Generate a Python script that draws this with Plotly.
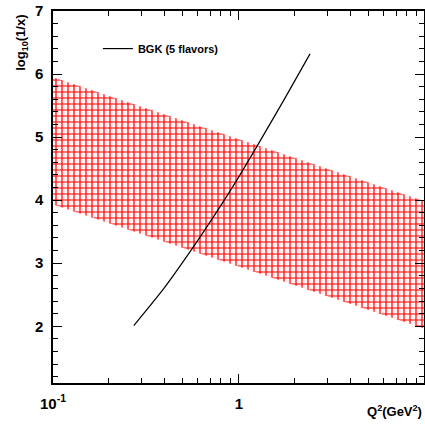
import plotly.graph_objects as go

# Band (red hatched region): log10(1/x) limits vs Q^2
band_q2 = [0.1, 10.0]
band_upper = [5.95, 3.98]
band_lower = [3.93, 1.96]

# BGK (5 flavors) curve
bgk_q2 = [0.272, 0.390, 0.545, 0.716, 0.952, 1.265, 1.746, 2.41]
bgk_y = [2.01, 2.58, 3.18, 3.70, 4.27, 4.88, 5.59, 6.32]

x_ticks = [0.1, 1]
x_ticktext = ["10<sup>-1</sup>", "1"]
x_minor = [0.2, 0.3, 0.4, 0.5, 0.6, 0.7, 0.8, 0.9, 2, 3, 4, 5, 6, 7, 8, 9]
y_ticks = [2, 3, 4, 5, 6, 7]

FONT = "Liberation Sans"

fig = go.Figure()
fig.add_trace(go.Scatter(
    x=band_q2 + band_q2[::-1],
    y=band_upper + band_lower[::-1],
    fill="toself", mode="lines", line=dict(width=0, color="red"),
    fillcolor="white",
    fillpattern=dict(shape="+", fgcolor="red", fgopacity=1, bgcolor="#fff2f2", size=6, solidity=0.36),
    showlegend=False, hoverinfo="skip",
))
fig.add_trace(go.Scatter(
    x=bgk_q2, y=bgk_y, mode="lines", line=dict(color="black", width=1.2, shape="spline", smoothing=0.6),
    name="BGK (5 flavors)",
))

axis_common = dict(
    showline=True, linecolor="black", linewidth=1.5, mirror="ticks",
    ticks="inside", tickcolor="black", showgrid=False, zeroline=False,
    automargin=False,
    tickfont=dict(family=FONT, size=15, color="black", weight="bold"),
)
fig.update_xaxes(
    type="log", range=[-1, 0.995], tickvals=x_ticks, ticktext=x_ticktext,
    ticklen=9, tickwidth=1,
    minor=dict(tickvals=x_minor, ticks="inside", ticklen=5, tickcolor="black", tickwidth=1, showgrid=False),
    ticklabelstandoff=6,
    **axis_common,
)
fig.update_yaxes(
    range=[1.1, 7], tickvals=y_ticks, ticklen=9, tickwidth=1,
    minor=dict(dtick=0.2, ticks="inside", ticklen=5, tickcolor="black", tickwidth=1, showgrid=False),
    ticklabelstandoff=5,
    **axis_common,
)

fig.add_annotation(
    text="log<sub>10</sub>(1/x)", xref="paper", yref="paper", x=-0.0836, y=0.995,
    xanchor="center", yanchor="top", textangle=-90, showarrow=False,
    font=dict(family=FONT, size=13, color="black", weight="bold"),
)
fig.add_annotation(
    text="Q<sup>2</sup>(GeV<sup>2</sup>)", xref="paper", yref="paper", x=1.0, y=-0.075,
    xanchor="right", yanchor="middle", showarrow=False,
    font=dict(family=FONT, size=13, color="black", weight="bold"),
)

fig.update_layout(
    width=425, height=425,
    margin=dict(l=53, r=1, t=11, b=42, autoexpand=False),
    paper_bgcolor="white", plot_bgcolor="white",
    showlegend=True,
    legend=dict(x=0.121, y=0.899, xanchor="left", yanchor="middle", bgcolor="rgba(0,0,0,0)",
                font=dict(family=FONT, size=11, color="black", weight="bold"),
                itemwidth=30),
)

fig.write_html("out.html", config={"displayModeBar": False},
               post_script="document.body.style.margin='0';document.body.style.padding='0';")
